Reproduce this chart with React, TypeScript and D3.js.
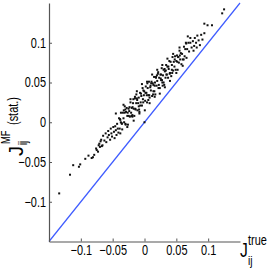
import React, { useEffect, useRef } from 'react';
import * as d3 from 'd3';

// J_true (x) vs J_MF stat. (y)
const xTrue: number[] = [
  -0.134, -0.117, -0.112, -0.103, -0.101, -0.093, -0.088, -0.083, -0.081, -0.079, -0.076, -0.075, -0.073, -0.072, -0.071, -0.070, -0.069, -0.067,
  -0.068, -0.066, -0.065, -0.063, -0.061, -0.060, -0.058, -0.057, -0.056, -0.054, -0.053, -0.052, -0.051, -0.049, -0.048, -0.047, -0.046, -0.045, -0.044, -0.043, -0.042, -0.041,
  -0.040, -0.039, -0.038, -0.037, -0.036, -0.035, -0.034, -0.033, -0.032, -0.031, -0.030, -0.029, -0.028, -0.027, -0.026, -0.025, -0.024, -0.023, -0.022, -0.021,
  -0.020, -0.019, -0.018, -0.017, -0.016, -0.015, -0.014, -0.013, -0.012, -0.011, -0.010, -0.009, -0.008, -0.007, -0.006, -0.005, -0.004, -0.003, -0.002, -0.001,
  -0.0385, -0.0355, -0.0325, -0.0295, -0.0265, -0.0235, -0.0205, -0.0175, -0.0145, -0.0115, -0.0085, -0.0055, -0.0025, -0.0005,
  -0.0372, -0.0312, -0.0248, -0.0188, -0.0128, -0.0068, -0.0018,
  0.001, 0.002, 0.003, 0.004, 0.005, 0.006, 0.007, 0.008, 0.009, 0.010, 0.011, 0.012, 0.013, 0.014, 0.015, 0.016, 0.017, 0.018, 0.019,
  0.020, 0.021, 0.022, 0.023, 0.024, 0.025, 0.026, 0.027, 0.028, 0.029, 0.030, 0.031, 0.032, 0.033, 0.034, 0.035, 0.036, 0.037, 0.038, 0.039,
  0.0015, 0.0045, 0.0075, 0.0105, 0.0135, 0.0165, 0.0195, 0.0225, 0.0255, 0.0285, 0.0315, 0.0345, 0.0375,
  0.0035, 0.0095, 0.0155, 0.0215, 0.0275, 0.0335, 0.0395,
  0.040, 0.041, 0.042, 0.043, 0.044, 0.045, 0.046, 0.047, 0.048, 0.049, 0.050, 0.051, 0.052, 0.053, 0.054, 0.055, 0.056, 0.057, 0.058, 0.059,
  0.060, 0.062, 0.063, 0.064, 0.066, 0.067, 0.069, 0.070, 0.072, 0.074,
  0.0435, 0.0475, 0.0515, 0.0555, 0.0615, 0.0655,
  0.076, 0.078, 0.079, 0.081, 0.083, 0.085, 0.087, 0.089, 0.091, 0.094, 0.077, 0.082, 0.094, 0.099, 0.106, 0.122, 0.125, 0.068, 0.072,
  -0.045, -0.038, -0.033, -0.027, -0.022, -0.017, -0.012, -0.008, -0.004, 0.0005, 0.004, 0.008, 0.012, 0.016, 0.020, 0.024, 0.028, 0.032,
  0.036, 0.040, 0.045, 0.050, 0.055, 0.060, 0.065, -0.030, -0.015, 0.006, 0.018, 0.030, -0.009, 0.026, 0.014, -0.019, 0.043, 0.053,
  0.0,
];

const yStat: number[] = [
  -0.0895, -0.066, -0.054, -0.056, -0.053, -0.046, -0.042, -0.045, -0.044, -0.041, -0.033, -0.035, -0.037, -0.029, -0.027, -0.031, -0.024, -0.030,
  -0.022, -0.029, -0.017, -0.023, -0.014, -0.025, -0.019, -0.011, -0.016, -0.022, -0.008, -0.014, -0.018, -0.006, -0.012, -0.020, -0.005, -0.010, -0.016, -0.002, -0.008, -0.013,
  0.005, -0.008, 0.003, 0.012, -0.001, -0.009, 0.012, 0.005, 0.000, 0.020, -0.002, 0.013, 0.018, 0.008, -0.003, 0.017, 0.014, 0.007, 0.025, 0.012,
  0.018, 0.007, 0.024, 0.017, 0.008, 0.032, 0.016, 0.024, 0.030, 0.015, 0.024, 0.031, 0.013, 0.037, 0.025, 0.033, 0.021, 0.043, 0.025, 0.034,
  0.004, -0.002, 0.015, -0.003, 0.012, 0.019, 0.008, 0.029, 0.017, 0.028, 0.016, 0.036, 0.029, 0.039,
  0.000, 0.012, 0.008, 0.019, 0.035, 0.021, 0.040,
  0.027, 0.045, 0.037, 0.025, 0.043, 0.034, 0.051, 0.031, 0.044, 0.040, 0.051, 0.033, 0.049, 0.039, 0.057, 0.046, 0.035, 0.056, 0.046,
  0.052, 0.061, 0.043, 0.056, 0.043, 0.060, 0.053, 0.068, 0.050, 0.059, 0.066, 0.047, 0.064, 0.056, 0.072, 0.060, 0.070, 0.056, 0.067, 0.077,
  0.037, 0.049, 0.034, 0.049, 0.035, 0.050, 0.059, 0.047, 0.055, 0.046, 0.067, 0.060, 0.070,
  0.034, 0.046, 0.039, 0.063, 0.053, 0.065, 0.061,
  0.062, 0.076, 0.058, 0.072, 0.082, 0.065, 0.076, 0.070, 0.083, 0.066, 0.077, 0.084, 0.066, 0.082, 0.075, 0.090, 0.079, 0.087, 0.073, 0.086,
  0.079, 0.095, 0.083, 0.092, 0.081, 0.092, 0.100, 0.089, 0.100, 0.094,
  0.062, 0.079, 0.076, 0.084, 0.079, 0.099,
  0.102, 0.096, 0.106, 0.100, 0.109, 0.103, 0.097, 0.110, 0.104, 0.112, 0.090, 0.094, 0.124, 0.122, 0.122, 0.137, 0.142, 0.108, 0.106,
  0.011, -0.014, 0.022, -0.006, 0.029, 0.002, 0.039, 0.011, 0.048, 0.015, 0.051, 0.024, 0.060, 0.032, 0.066, 0.036, 0.072, 0.044,
  0.080, 0.052, 0.086, 0.062, 0.094, 0.071, 0.100, 0.016, 0.030, 0.028, 0.057, 0.050, 0.020, 0.060, 0.047, 0.009, 0.066, 0.082,
  0.0,
];

const tickValues = [-0.1, -0.05, 0, 0.05, 0.1];
const extent: [number, number] = [-0.15, 0.15];

const font = '"Liberation Sans", Arial, sans-serif';

const App: React.FC = () => {
  const svgRef = useRef<SVGSVGElement>(null);
  const plotRef = useRef<SVGGElement>(null);

  useEffect(() => {
    if (!svgRef.current || !plotRef.current) return;
    const g = d3.select(plotRef.current);
    g.selectAll('*').remove();

    const x = d3.scaleLinear().domain(extent).range([49, 240]);
    const y = d3.scaleLinear().domain(extent).range([241.5, 3]);

    // identity line
    g.append('line')
      .attr('x1', x(extent[0])).attr('y1', y(extent[0]))
      .attr('x2', x(extent[1])).attr('y2', y(extent[1]))
      .attr('stroke', '#3f5cff')
      .attr('stroke-width', 1.2);

    // points
    g.append('g')
      .selectAll('rect')
      .data(xTrue.map((v, i) => [v, yStat[i]]))
      .enter()
      .append('rect')
      .attr('x', d => x(d[0]) - 1)
      .attr('y', d => y(d[1]) - 1)
      .attr('width', 2)
      .attr('height', 2)
      .attr('fill', '#111');

    // axes, ticks inward like matlab
    const gx = g.append('g')
      .attr('transform', `translate(0,${y(extent[0])})`)
      .call(d3.axisBottom(x).tickValues(tickValues).tickSizeInner(-3).tickSizeOuter(0).tickPadding(4).tickFormat(d3.format('')));
    const gy = g.append('g')
      .attr('transform', `translate(${x(extent[0])},0)`)
      .call(d3.axisLeft(y).tickValues(tickValues).tickSizeInner(-3).tickSizeOuter(0).tickPadding(3).tickFormat(d3.format('')));

    [gx, gy].forEach(a => {
      a.select('.domain').attr('stroke', '#555').attr('stroke-width', 1.2);
      a.selectAll('.tick line').attr('stroke', '#555');
      a.selectAll('.tick text')
        .attr('fill', '#000')
        .attr('class', 'narrow')
        .style('font-family', font)
        .style('font-size', '14px');
    });

    // squeeze the text horizontally, helvetica narrow look
    d3.select(svgRef.current).selectAll<SVGTextElement, unknown>('text.narrow').each(function () {
      const w = this.getComputedTextLength();
      d3.select(this).attr('textLength', w * 0.78).attr('lengthAdjust', 'spacingAndGlyphs');
    });
  }, []);

  return (
    <svg
      ref={svgRef}
      width={273}
      height={273}
      style={{ position: 'absolute', left: 0, top: 0, background: '#fff' }}
    >
      <g ref={plotRef} />
      <g transform="translate(23,156) rotate(-90)" fontFamily={font} fill="#000">
        <text x={0} y={0} fontSize={20}>J</text>
        <text className="narrow" x={11} y={4} fontSize={12}>ij</text>
        <text className="narrow" x={12} y={-13} fontSize={12}>MF</text>
        <text className="narrow" x={31} y={-5} fontSize={14}>(stat.)</text>
      </g>
      <g fontFamily={font} fill="#000">
        <text className="narrow" x={240} y={257} fontSize={20}>J</text>
        <text className="narrow" x={248} y={245} fontSize={14}>true</text>
        <text className="narrow" x={248} y={265} fontSize={13}>ij</text>
      </g>
    </svg>
  );
};

export default App;
